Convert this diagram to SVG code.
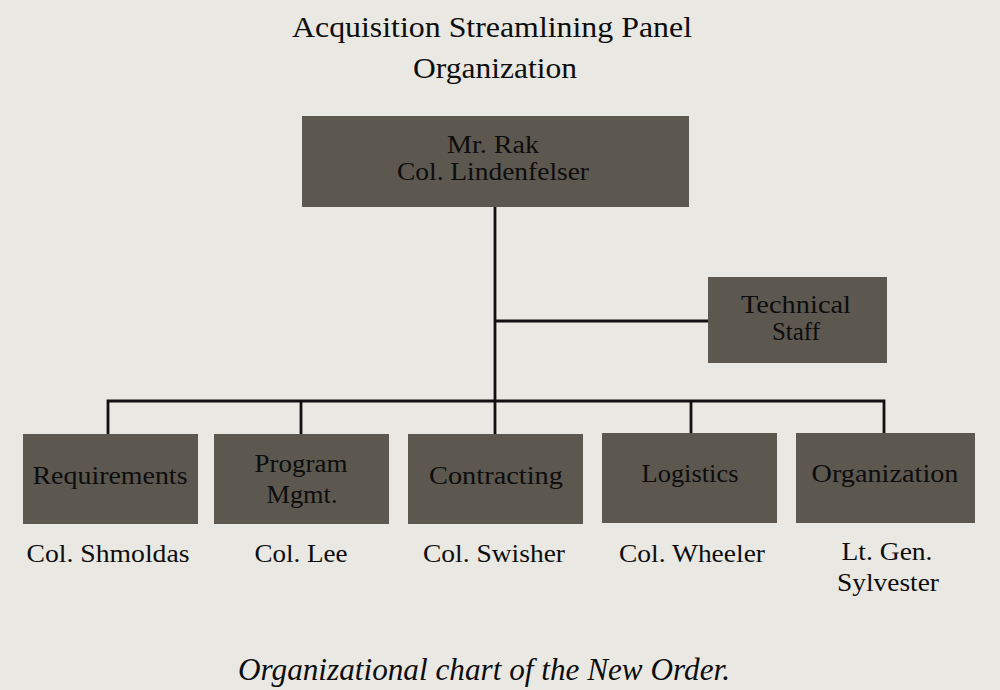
<svg xmlns="http://www.w3.org/2000/svg" width="1000" height="690" viewBox="0 0 1000 690">
<style>
.bg{fill:#e9e8e3}
.box{fill:#5c574f}
.t{font-family:"Liberation Serif","Times New Roman",serif;fill:#0d0d0d;text-anchor:middle}
.bx{font-size:26px}
.lb{font-size:26px}
.ti{font-size:30px}
.cap{font-size:31px;font-style:italic}
.ln{stroke:#111;stroke-width:2.8;fill:none}
</style>
<rect class="bg" x="0" y="0" width="1000" height="690"/>
<g id="title">
<text class="t ti" x="492" y="37" textLength="400" lengthAdjust="spacingAndGlyphs">Acquisition Streamlining Panel</text>
<text class="t ti" x="495" y="78" textLength="164" lengthAdjust="spacingAndGlyphs">Organization</text>
</g>
<g id="connectors">
<line class="ln" x1="495" y1="207" x2="495" y2="434"/>
<line class="ln" x1="495" y1="321" x2="709" y2="321"/>
<polyline class="ln" points="108,434 108,401 884,401 884,434"/>
<line class="ln" x1="301" y1="401" x2="301" y2="434"/>
<line class="ln" x1="691" y1="401" x2="691" y2="434"/>
</g>
<g id="node-top">
<rect class="box" x="302" y="116" width="387" height="91"/>
<text class="t bx" x="493" y="153" textLength="92" lengthAdjust="spacingAndGlyphs">Mr. Rak</text>
<text class="t bx" x="493" y="180" textLength="192" lengthAdjust="spacingAndGlyphs">Col. Lindenfelser</text>
</g>
<g id="node-technical">
<rect class="box" x="708" y="277" width="179" height="86"/>
<text class="t bx" x="796" y="313" textLength="110" lengthAdjust="spacingAndGlyphs">Technical</text>
<text class="t bx" x="796" y="340" textLength="48" lengthAdjust="spacingAndGlyphs">Staff</text>
</g>
<g id="node-requirements">
<rect class="box" x="23" y="434" width="175" height="90"/>
<text class="t bx" x="110" y="484" textLength="155" lengthAdjust="spacingAndGlyphs">Requirements</text>
<text class="t lb" x="108" y="562" textLength="163" lengthAdjust="spacingAndGlyphs">Col. Shmoldas</text>
</g>
<g id="node-program">
<rect class="box" x="214" y="434" width="175" height="90"/>
<text class="t bx" x="301" y="472" textLength="93" lengthAdjust="spacingAndGlyphs">Program</text>
<text class="t bx" x="302" y="503" textLength="71" lengthAdjust="spacingAndGlyphs">Mgmt.</text>
<text class="t lb" x="301" y="562" textLength="93" lengthAdjust="spacingAndGlyphs">Col. Lee</text>
</g>
<g id="node-contracting">
<rect class="box" x="408" y="434" width="175" height="90"/>
<text class="t bx" x="496" y="484" textLength="134" lengthAdjust="spacingAndGlyphs">Contracting</text>
<text class="t lb" x="494" y="562" textLength="142" lengthAdjust="spacingAndGlyphs">Col. Swisher</text>
</g>
<g id="node-logistics">
<rect class="box" x="602" y="433" width="175" height="90"/>
<text class="t bx" x="690" y="482" textLength="97" lengthAdjust="spacingAndGlyphs">Logistics</text>
<text class="t lb" x="692" y="562" textLength="146" lengthAdjust="spacingAndGlyphs">Col. Wheeler</text>
</g>
<g id="node-organization">
<rect class="box" x="796" y="433" width="179" height="90"/>
<text class="t bx" x="885" y="482" textLength="147" lengthAdjust="spacingAndGlyphs">Organization</text>
<text class="t lb" x="887" y="560" textLength="91" lengthAdjust="spacingAndGlyphs">Lt. Gen.</text>
<text class="t lb" x="888" y="591" textLength="102" lengthAdjust="spacingAndGlyphs">Sylvester</text>
</g>
<g id="caption">
<text class="t cap" x="484" y="680" textLength="492" lengthAdjust="spacingAndGlyphs">Organizational chart of the New Order.</text>
</g>
</svg>
